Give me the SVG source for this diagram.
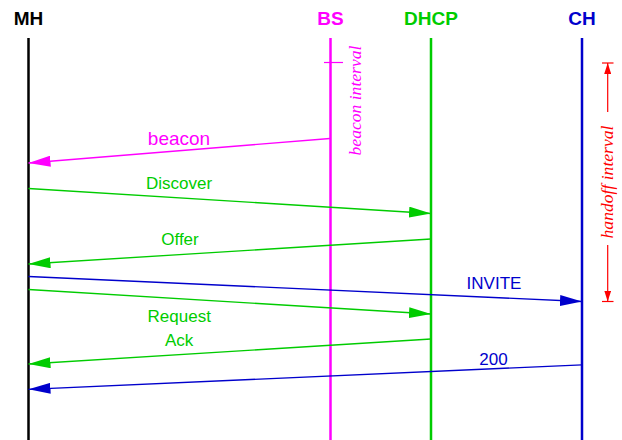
<svg xmlns="http://www.w3.org/2000/svg" width="622" height="440" viewBox="0 0 622 440">
<style>
.hd{font-family:"Liberation Sans",Arial,sans-serif;font-weight:bold;font-size:19px;text-anchor:middle}
.lb{font-family:"Liberation Sans",Arial,sans-serif;font-size:17px;text-anchor:middle}
.it{font-family:"Liberation Serif","Times New Roman",serif;font-style:italic;font-size:17.6px;text-anchor:middle}
.life{stroke-width:2.5;fill:none}
.msg{stroke-width:1.3;fill:none}
</style>
<defs>
<marker id="am" markerUnits="userSpaceOnUse" markerWidth="22" markerHeight="11" refX="22" refY="5.5" orient="auto"><path d="M0,0 L22,5.5 L0,11 z" fill="#ff00ff"/></marker>
<marker id="ag" markerUnits="userSpaceOnUse" markerWidth="22" markerHeight="11" refX="22" refY="5.5" orient="auto"><path d="M0,0 L22,5.5 L0,11 z" fill="#00cc00"/></marker>
<marker id="ab" markerUnits="userSpaceOnUse" markerWidth="22" markerHeight="11" refX="22" refY="5.5" orient="auto"><path d="M0,0 L22,5.5 L0,11 z" fill="#0000cc"/></marker>
<marker id="ar" markerUnits="userSpaceOnUse" markerWidth="11" markerHeight="7" refX="11" refY="3.5" orient="auto"><path d="M0,0 L11,3.5 L0,7 z" fill="#ff0000"/></marker>
</defs>
<g id="MH"><text class="hd" x="28.5" y="25" fill="#000">MH</text><line class="life" x1="28.5" y1="38" x2="28.5" y2="440" stroke="#000"/></g>
<g id="BS"><text class="hd" x="330.5" y="25" fill="#ff00ff">BS</text><line class="life" x1="330.5" y1="38" x2="330.5" y2="440" stroke="#ff00ff"/>
<line x1="324" y1="62.5" x2="343" y2="62.5" stroke="#ff00ff" stroke-width="1.2"/>
<text class="it" fill="#ff00ff" transform="translate(361,100.5) rotate(-90)">beacon interval</text></g>
<g id="DHCP"><text class="hd" x="431" y="25" fill="#00cc00">DHCP</text><line class="life" x1="431" y1="38" x2="431" y2="440" stroke="#00cc00"/></g>
<g id="CH"><text class="hd" x="582" y="25" fill="#0000cc">CH</text><line class="life" x1="582" y1="38" x2="582" y2="440" stroke="#0000cc"/></g>
<g id="handoff">
<line x1="602" y1="63" x2="613.5" y2="63" stroke="#ff0000" stroke-width="1.2"/>
<line x1="602" y1="301.5" x2="613.5" y2="301.5" stroke="#ff0000" stroke-width="1.2"/>
<line x1="607.7" y1="112" x2="607.7" y2="63" stroke="#ff0000" stroke-width="1.2" marker-end="url(#ar)"/>
<line x1="607.7" y1="245" x2="607.7" y2="301.5" stroke="#ff0000" stroke-width="1.2" marker-end="url(#ar)"/>
<text class="it" fill="#ff0000" transform="translate(612.5,182) rotate(-90)">handoff interval</text>
</g>
<g id="connectors">
<line class="msg" x1="330" y1="138.5" x2="28.5" y2="163" stroke="#ff00ff" marker-end="url(#am)"/>
<text class="lb" x="179" y="145.3" fill="#ff00ff" style="font-size:19px">beacon</text>
<line class="msg" x1="28.5" y1="188.5" x2="431" y2="213.5" stroke="#00cc00" marker-end="url(#ag)"/>
<text class="lb" x="179" y="188.7" fill="#00cc00">Discover</text>
<line class="msg" x1="431" y1="239" x2="28.5" y2="264" stroke="#00cc00" marker-end="url(#ag)"/>
<text class="lb" x="180" y="244.5" fill="#00cc00">Offer</text>
<line class="msg" x1="28.5" y1="276.5" x2="582" y2="301.5" stroke="#0000cc" marker-end="url(#ab)"/>
<text class="lb" x="494" y="289" fill="#0000cc">INVITE</text>
<line class="msg" x1="28.5" y1="289.5" x2="431" y2="314" stroke="#00cc00" marker-end="url(#ag)"/>
<text class="lb" x="179.2" y="321.5" fill="#00cc00">Request</text>
<line class="msg" x1="431" y1="339" x2="28.5" y2="364" stroke="#00cc00" marker-end="url(#ag)"/>
<text class="lb" x="179.2" y="345.5" fill="#00cc00">Ack</text>
<line class="msg" x1="582" y1="364.8" x2="28.5" y2="389.3" stroke="#0000cc" marker-end="url(#ab)"/>
<text class="lb" x="493.5" y="365" fill="#0000cc">200</text>
</g>
</svg>
